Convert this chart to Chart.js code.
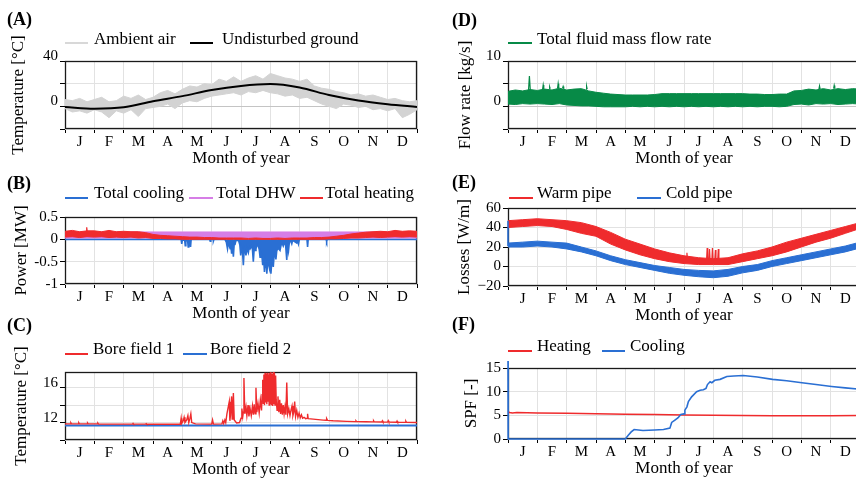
<!DOCTYPE html>
<html>
<head>
<meta charset="utf-8">
<script src="https://cdn.jsdelivr.net/npm/chart.js@4.4.1/dist/chart.umd.min.js"></script>
<style>
  html, body { margin: 0; padding: 0; background: #fff; }
  body { width: 856px; height: 481px; overflow: hidden; position: relative;
         font-family: "Liberation Serif", serif; color: #000; }
  canvas { position: absolute; }
  .txt { position: absolute; white-space: nowrap; }
  .sw { position: absolute; height: 2px; }
</style>
</head>
<body>
<canvas id="cA"></canvas>
<canvas id="cB"></canvas>
<canvas id="cC"></canvas>
<canvas id="cD"></canvas>
<canvas id="cE"></canvas>
<canvas id="cF"></canvas>
<script>
const MONTHS = ["J", "F", "M", "A", "M", "J", "J", "A", "S", "O", "N", "D"];
// x positions are in months (0 = 1 Jan, 12 = 31 Dec)
const quarterX = Array.from({ length: 49 }, (_, i) => i / 4);
const halfX = Array.from({ length: 25 }, (_, i) => i / 2);
const monthX = Array.from({ length: 13 }, (_, i) => i);

// (A) temperatures [°C]
const airHi = [6, 5, 7, 4, 6, 8, 4, 5, 9, 7, 10, 6, 8, 12, 14, 11, 15, 18, 17, 20, 19, 24, 22, 26,
  22, 25, 27, 24, 29, 27, 25, 24, 22, 24, 18, 16, 15, 13, 12, 10, 11, 9, 10, 8, 6, 7, 5, 4, 5];
const airLo = [-2, -5, -4, -6, -3, -5, -10, -4, -6, -3, -9, -2, -1, 0, 2, -2, 3, 5, 4, 7, 9, 10, 11, 12,
  10, 13, 12, 14, 12, 11, 9, 10, 7, 8, 5, 2, 0, -2, 2, 1, -1, 0, -3, -2, -4, -2, -10, -7, -3];
const groundT = [-0.5, -2.1, -0.9, 4.5, 9.0, 14.4, 18.0, 19.6, 16.6, 10.0, 5.2, 1.9, -0.6];

// (B) power [MW]
const heatHi = [0.18, 0.2, 0.17, 0.19, 0.19, 0.17, 0.2, 0.17, 0.18, 0.17, 0.17, 0.15,
  0.11, 0.09, 0.08, 0.07, 0.06, 0.05, 0.05, 0.04, 0.04, 0.03, 0.03, 0.03,
  0.03, 0.02, 0.03, 0.02, 0.02, 0.03, 0.02, 0.03, 0.03, 0.03, 0.04, 0.04,
  0.05, 0.07, 0.09, 0.12, 0.14, 0.16, 0.17, 0.18, 0.17, 0.2, 0.18, 0.19, 0.18];
const heatLo = [0.05, 0.06, 0.04, 0.06, 0.05, 0.06, 0.04, 0.05, 0.04, 0.05, 0.03, 0.04,
  0.02, 0.02, 0.01, 0.01, 0, 0, 0, 0, 0, 0, 0, 0,
  0, 0, 0, 0, 0, 0, 0, 0, 0, 0, 0, 0,
  0.01, 0.01, 0.02, 0.03, 0.03, 0.04, 0.05, 0.04, 0.05, 0.06, 0.05, 0.06, 0.05];
const heatSpikeX = [0.72, 0.74, 0.76];
const heatSpikeY = [0.16, 0.27, 0.16];
const dhwHi = [0.165, 0.165, 0.165, 0.165, 0.165, 0.165, 0.165, 0.165, 0.165, 0.165, 0.165, 0.165, 0.165];
const dhwLo = [0.03, 0.03, 0.03, 0.03, 0.03, 0.03, 0.03, 0.03, 0.03, 0.03, 0.03, 0.03, 0.03];
const coolX = [0, 3.96, 3.98, 4.0, 4.08, 4.1, 4.12, 4.18, 4.2, 4.22, 4.26, 4.28, 4.3, 4.93, 4.95, 4.97, 5.05, 5.06, 5.08,
  5.45, 5.5, 5.54, 5.57, 5.63, 5.65, 5.68, 5.71, 5.74, 5.77, 5.8, 5.83, 5.92,
  5.96, 5.99, 6.02, 6.05, 6.08, 6.11, 6.14, 6.17, 6.2, 6.25, 6.28, 6.31, 6.35, 6.39, 6.42, 6.45, 6.48, 6.51, 6.55, 6.59, 6.62,
  6.65, 6.68, 6.71, 6.74, 6.77, 6.8, 6.83, 6.86, 6.88, 6.91, 6.94, 6.97, 7.0, 7.02, 7.05, 7.08, 7.1, 7.13, 7.16, 7.19, 7.22,
  7.27, 7.33, 7.37, 7.41, 7.44, 7.48, 7.52, 7.56, 7.59, 7.62, 7.65, 7.7, 7.73, 7.76, 7.9, 7.93, 7.96, 7.99,
  8.25, 8.27, 8.29, 8.9, 8.92, 8.94, 12];
const coolY = [0, 0, -0.1, -0.02, -0.02, -0.14, -0.02, -0.03, -0.17, -0.03, -0.04, -0.17, 0, 0, -0.04, 0, 0, -0.04, 0,
  0, -0.06, -0.21, -0.06, -0.21, -0.1, -0.32, -0.12, -0.39, -0.08, -0.1, -0.02, -0.03,
  -0.12, -0.36, -0.18, -0.25, -0.58, -0.2, -0.25, -0.36, -0.2, -0.3, -0.18, -0.21, -0.15, -0.22, -0.5, -0.2, -0.25, -0.21, -0.12, -0.15, -0.22,
  -0.4, -0.3, -0.35, -0.58, -0.4, -0.73, -0.45, -0.55, -0.77, -0.5, -0.55, -0.65, -0.45, -0.77, -0.5, -0.45, -0.62, -0.35, -0.3, -0.45, -0.25,
  -0.2, -0.25, -0.12, -0.1, -0.15, -0.08, -0.12, -0.46, -0.1, -0.25, -0.05, -0.05, -0.1, -0.02, -0.08, -0.02, -0.1, 0,
  0, -0.17, 0, 0, -0.05, 0, 0];

// (C) bore field temperatures [°C]
const bore1X = [0, 0.18, 0.2, 0.22, 0.45, 0.47, 0.49, 0.75, 0.77, 0.79, 1.1, 1.12, 1.14, 2.3, 2.32, 2.34, 2.75, 2.77, 2.79,
  3.93, 3.96, 3.98, 4.03, 4.06, 4.09, 4.15, 4.19, 4.22, 4.26, 4.29, 4.32, 4.45, 5.0, 5.03, 5.06, 5.35, 5.38, 5.41, 5.45,
  5.48, 5.52, 5.6, 5.62, 5.64, 5.68, 5.7, 5.72, 5.74, 5.77, 5.85,
  5.95, 6.0, 6.03, 6.06, 6.08, 6.1, 6.13, 6.17, 6.2, 6.24, 6.27, 6.31, 6.35, 6.39, 6.42, 6.45, 6.48, 6.51, 6.54, 6.58,
  6.62, 6.66, 6.7, 6.72,
  6.74, 6.76, 6.78, 6.8, 6.82, 6.84, 6.86, 6.88, 6.9, 6.92, 6.94, 6.96, 6.98, 7.0, 7.02, 7.04, 7.06, 7.08, 7.1, 7.12,
  7.14, 7.16, 7.18, 7.2,
  7.23, 7.26, 7.29, 7.32, 7.35, 7.38, 7.41, 7.44, 7.47, 7.5, 7.53, 7.56, 7.59, 7.63, 7.67, 7.71, 7.74, 7.77, 7.8, 7.83,
  7.86, 7.9, 7.94, 7.98, 8.02, 8.06, 8.1, 8.15, 8.2, 8.25, 8.27, 8.29,
  8.46, 8.8, 8.9, 8.92, 8.95, 9.14, 9.6, 9.9, 9.92, 9.94, 10.27, 10.5, 10.52, 10.54, 10.8, 10.82, 10.84, 11.0, 11.02, 11.04,
  11.3, 11.32, 11.34, 11.6, 11.62, 11.64, 12];
const bore1Y = [11.85, 11.85, 11.97, 11.85, 11.85, 11.97, 11.85, 11.85, 11.95, 11.85, 11.85, 11.93, 11.84, 11.82, 11.9, 11.82, 11.82, 11.88, 11.81,
  11.8, 12.5, 11.9, 12.2, 12.6, 12.0, 12.3, 12.8, 12.0, 12.5, 13.0, 12.0, 11.85, 11.82, 12.3, 11.82, 11.85, 12.2, 11.9, 12.3,
  12.0, 13.0, 14.4, 12.2, 12.8, 15.0, 12.4, 13.2, 15.4, 12.3, 11.95,
  12.0, 12.5, 13.6, 12.7, 13.2, 17.1, 13.0, 13.8, 12.8, 14.0, 12.7, 13.6, 12.8, 13.9, 12.9, 14.1, 13.0, 16.0, 13.2, 14.2,
  13.1, 14.6, 13.4, 15.2,
  16.9, 14.2, 17.5, 14.0, 17.7, 14.3, 17.6, 14.1, 17.7, 14.4, 17.5, 14.0, 17.7, 14.2, 17.8, 14.0, 17.6, 13.9, 17.8, 14.1,
  17.7, 14.0, 17.4, 14.6,
  13.4, 15.0, 13.2, 14.6, 13.0, 14.2, 12.9, 14.0, 13.0, 13.8, 12.9, 16.6, 13.0, 13.6, 12.8, 13.5, 13.9, 12.8, 13.2, 14.4,
  12.7, 13.4, 12.6, 13.1, 12.55, 12.9, 12.5, 12.6, 12.45, 12.5, 13.0, 12.45,
  12.4, 12.28, 12.26, 12.45, 12.25, 12.2, 12.14, 12.11, 12.2, 12.11, 12.1, 12.08, 12.2, 12.08, 12.06, 12.2, 12.06, 12.05, 12.2, 12.05,
  12.04, 12.18, 12.04, 12.02, 12.15, 12.02, 12.0];
const bore2X = [0, 12];
const bore2Y = [11.67, 11.67];

// (D) flow rate [kg/s]
const flowHi = [3.3, 3.6, 3.4, 3.7, 3.5, 3.8, 3.6, 4.0, 3.6, 3.8, 3.9, 3.4,
  3.1, 2.9, 2.7, 2.6, 2.5, 2.5, 2.5, 2.5, 2.6, 2.8, 2.8, 2.8,
  2.8, 2.8, 2.8, 2.8, 2.8, 2.8, 2.8, 2.8, 2.8, 2.7, 2.7, 2.6,
  2.6, 2.7, 2.7, 3.4, 3.5, 3.8, 3.6, 3.9, 3.6, 3.9, 3.7, 3.9, 3.8];
const flowLo = [0.5, 0.4, 0.6, 0.5, 0.6, 0.5, 0.4, 0.6, 0.3, 0.2, 0.1, 0.1,
  0.0, -0.1, -0.1, -0.1, -0.1, 0.0, -0.1, 0.0, -0.1, 0.0, -0.1, 0.0,
  -0.1, 0.0, -0.1, 0.0, -0.1, 0.0, -0.1, 0.0, -0.1, 0.0, -0.1, 0.0,
  0.0, -0.1, 0.0, 0.4, 0.5, 0.3, 0.6, 0.5, 0.6, 0.4, 0.5, 0.6, 0.5];
const flowSpikeX = [0.7, 0.73, 0.76, 0.77, 1.18, 1.2, 1.22, 1.23, 1.4, 1.42, 1.44, 1.45, 1.69, 1.71, 1.73, 1.74,
  1.86, 1.88, 1.9, 1.91, 2.66, 2.68, 2.7, 2.71, 10.6, 10.62, 10.64, 10.65, 11.1, 11.12, 11.14];
const flowSpikeY = [3.6, 6.7, 3.6, null, 3.8, 4.7, 3.8, null, 3.9, 4.3, 3.9, null, 4.0, 5.0, 4.0, null,
  4.0, 4.4, 4.0, null, 3.8, 4.4, 3.8, null, 3.8, 4.5, 3.8, null, 3.9, 4.6, 3.9];

// (E) pipe losses [W/m]
const warmHi = [47, 48, 49, 48, 47, 45, 41, 35, 28, 23, 18, 14, 11, 9, 8, 9, 13, 16, 20, 25, 29, 33, 37, 41, 45];
const warmLo = [40, 41, 42, 41, 38, 34, 31, 23, 17, 12, 8, 5, 3, 2, 2, 2, 5, 8, 11, 15, 20, 25, 29, 34, 39];
const warmSpikeX = [6.08, 6.1, 6.12, 6.13, 6.77, 6.79, 6.81, 6.85, 6.87, 6.89, 6.95, 6.97, 6.99, 7.05, 7.07, 7.09, 7.15, 7.17, 7.19];
const warmSpikeY = [7, 14, 7, null, 7, 19, 7, 7, 18, 7, 7, 19, 7, 7, 17, 7, 7, 18, 7];
const coldHi = [24, 25, 26, 25, 24, 20, 16, 11, 7, 4, 1, -1, -3, -4, -4.5, -3, 0, 2, 6, 9, 12, 15, 18, 21, 25];
const coldLo = [20, 20, 21, 20, 18, 15, 11, 6, 2, -1, -4, -7, -9, -10.5, -11.5, -10, -6.5, -4, 0, 3, 6, 9, 12, 15, 19];
const coldStartX = [0, 0];
const coldStartY = [47, 21];

// (F) seasonal performance factor [-]
const spfHeatX = [0, 0.05, 0.15, 0.3, 1, 2, 3, 4, 5, 6, 7, 8, 9, 10, 11, 12];
const spfHeatY = [5.8, 5.6, 5.5, 5.6, 5.5, 5.45, 5.35, 5.25, 5.15, 5.05, 5.0, 4.95, 4.9, 4.9, 4.9, 4.95];
const spfCoolX = [0, 0, 0.01, 4.0, 4.1, 4.2, 4.3, 4.6, 5.0, 5.3, 5.52, 5.58, 5.69, 5.8, 5.89, 6.0, 6.03, 6.1, 6.15, 6.26,
  6.43, 6.55, 6.66, 6.75, 6.8, 6.89, 6.95, 7.05, 7.23, 7.46, 7.7, 8.02, 8.5, 9.02, 9.5, 10.02, 10.5, 11.03, 11.5, 12];
const spfCoolY = [16.5, 0, 0, 0, 0.8, 1.5, 2.0, 1.8, 1.9, 2.0, 2.3, 3.5, 4.0, 4.5, 5.2, 5.3, 6.1, 6.8, 7.9, 8.9,
  10.0, 10.3, 10.4, 10.7, 11.5, 12.1, 11.9, 12.4, 12.6, 13.2, 13.3, 13.4, 13.1, 12.6, 12.3, 11.9, 11.5, 11.1, 10.8, 10.5];

const RED = "#ef2b2d", BLUE = "#2a6fd3", VIOLET = "#d67ee6", GREEN = "#078a47", GRAY = "#d3d3d3";
const GRID = "#e2e2e2";
const PAD_TOP = 40;

Chart.defaults.font.family = "'Liberation Serif', serif";
Chart.defaults.color = "#000";

function pts(xs, ys) {
  return xs.map((x, i) => ({ x: x, y: ys[i] }));
}

function line(xs, ys, color, width, extra) {
  return Object.assign({
    data: pts(xs, ys), borderColor: color, backgroundColor: color,
    borderWidth: width, pointRadius: 0, fill: false, order: 0
  }, extra || {});
}

function band(xs, hi, lo, color, order) {
  return [line(xs, hi, color, 1, { fill: "+1", order: order }),
          line(xs, lo, color, 1, { order: order })];
}

const framePlugin = {
  id: "frame",
  beforeDatasetsDraw(chart) {
    const a = chart.chartArea, ctx = chart.ctx;
    ctx.save();
    ctx.strokeStyle = "#1a1a1a";
    ctx.lineWidth = 1.3;
    ctx.strokeRect(Math.round(a.left) + 0.5, Math.round(a.top) + 0.5,
      Math.round(a.right - a.left) - 1, Math.round(a.bottom - a.top) - 1);
    ctx.restore();
  }
};

function xScale() {
  return {
    type: "linear", min: 0, max: 12,
    afterBuildTicks: s => { s.ticks = halfX.map(v => ({ value: v })); },
    afterFit: s => { s.height = 42; },
    border: { display: false },
    grid: {
      color: c => (c.tick && c.tick.value % 1 === 0) ? GRID : "rgba(0,0,0,0)",
      tickColor: c => (c.tick && c.tick.value % 1 === 0) ? "#000" : "rgba(0,0,0,0)",
      tickLength: 4
    },
    ticks: {
      autoSkip: false, maxRotation: 0, padding: 2, color: "#000",
      font: { size: 15, lineHeight: 1 },
      callback: v => (v % 1 !== 0) ? MONTHS[Math.floor(v)] : ""
    },
    title: { display: true, text: "Month of year", font: { size: 17, lineHeight: 1.2 }, padding: { top: 0, bottom: 2 } }
  };
}

function yScale(cfg) {
  return {
    type: "linear", min: cfg.min, max: cfg.max,
    afterBuildTicks: s => { s.ticks = cfg.ticks.map(v => ({ value: v })); },
    afterFit: s => { s.width = cfg.width; },
    border: { display: false },
    grid: {
      color: c => (cfg.zeroLine && c.tick && c.tick.value === 0) ? "#c4c4c4" : GRID,
      tickColor: "#000", tickLength: 5
    },
    ticks: {
      padding: 2, color: "#000", labelOffset: cfg.raise || 0,
      font: { size: 15, lineHeight: 1 },
      callback: v => (String(v) in cfg.labels) ? cfg.labels[String(v)] : ""
    },
    title: { display: true, text: cfg.title, font: { size: 17, lineHeight: 1.2 }, padding: { top: cfg.titlePad, bottom: 0 } }
  };
}

// box: left x, plot top, plot height, canvas width, right padding
function makeChart(id, box, y, datasets) {
  const cv = document.getElementById(id);
  const h = box.ph + PAD_TOP + 42;
  cv.width = box.w; cv.height = h;
  cv.style.left = box.x + "px"; cv.style.top = (box.top - PAD_TOP) + "px";
  cv.style.width = box.w + "px"; cv.style.height = h + "px";
  return new Chart(cv, {
    type: "line",
    data: { datasets: datasets },
    options: {
      responsive: false, animation: false, devicePixelRatio: 1,
      layout: { padding: { top: PAD_TOP, right: box.pr, left: 0, bottom: 0 } },
      plugins: { legend: { display: false }, tooltip: { enabled: false } },
      elements: { point: { radius: 0 }, line: { tension: 0 } },
      scales: { x: xScale(), y: yScale(y) }
    },
    plugins: [framePlugin]
  });
}

// (A)
makeChart("cA", { x: 0, top: 61, ph: 68, w: 430, pr: 13 },
  { min: -20, max: 40, ticks: [-20, 0, 20, 40], labels: { "40": "40", "0": "0" }, width: 65, raise: -5,
    title: "Temperature [°C]", titlePad: 8, zeroLine: true },
  [line(monthX, groundT, "#000", 2, { cubicInterpolationMode: "monotone", order: 0 })]
    .concat(band(quarterX, airHi, airLo, GRAY, 1)));

// (D)
makeChart("cD", { x: 430, top: 61, ph: 68, w: 432, pr: 2 },
  { min: -5, max: 10, ticks: [-5, 0, 5, 10], labels: { "10": "10", "0": "0" }, width: 78, raise: -5,
    title: "Flow rate [kg/s]", titlePad: 25, zeroLine: true },
  band(quarterX, flowHi, flowLo, GREEN, 1)
    .concat([line(flowSpikeX, flowSpikeY, GREEN, 1.2, { order: 0 })]));

// (B)
makeChart("cB", { x: 0, top: 217, ph: 67, w: 430, pr: 13 },
  { min: -1, max: 0.5, ticks: [-1, -0.5, 0, 0.5], labels: { "0.5": "0.5", "0": "0", "-0.5": "-0.5", "-1": "-1" },
    width: 65, raise: 0, title: "Power [MW]", titlePad: 11 },
  band(quarterX, heatHi, heatLo, RED, 0)
    .concat([line(heatSpikeX, heatSpikeY, RED, 1.2, { order: 0 })])
    .concat(band(monthX, dhwHi, dhwLo, VIOLET, 1))
    .concat([line(coolX, coolY, BLUE, 1.6, { fill: "origin", order: 2 })]));

// (E)
makeChart("cE", { x: 430, top: 208, ph: 78, w: 432, pr: 2 },
  { min: -20, max: 60, ticks: [-20, 0, 20, 40, 60],
    labels: { "60": "60", "40": "40", "20": "20", "0": "0", "-20": "\u221220" },
    width: 78, raise: 0, title: "Losses [W/m]", titlePad: 24 },
  [line(coldStartX, coldStartY, BLUE, 1.6, { order: 0, clip: false })]
    .concat(band(halfX, warmHi, warmLo, RED, 1))
    .concat([line(warmSpikeX, warmSpikeY, RED, 1.2, { order: 1 })])
    .concat(band(halfX, coldHi, coldLo, BLUE, 2)));

// (C)
makeChart("cC", { x: 0, top: 372, ph: 68, w: 430, pr: 13 },
  { min: 10, max: 17.8, ticks: [10, 12, 14, 16], labels: { "12": "12", "16": "16" }, width: 65, raise: -5,
    title: "Temperature [°C]", titlePad: 11 },
  [line(bore1X, bore1Y, RED, 1.4, { order: 0 }),
   line(bore2X, bore2Y, BLUE, 2, { order: 1 })]);

// (F)
makeChart("cF", { x: 430, top: 368, ph: 71, w: 432, pr: 2 },
  { min: 0, max: 15, ticks: [0, 5, 10, 15], labels: { "15": "15", "10": "10", "5": "5", "0": "0" },
    width: 78, raise: 0, title: "SPF [-]", titlePad: 31 },
  [line(spfCoolX, spfCoolY, BLUE, 1.6, { order: 0, clip: false }),
   line(spfHeatX, spfHeatY, RED, 1.5, { order: 1 })]);

// panel letters and legends (HTML text, placed by baseline)
function addText(str, x, baseline, size, bold) {
  const d = document.createElement("div");
  d.className = "txt";
  d.textContent = str;
  d.style.fontSize = size + "px";
  d.style.lineHeight = size + "px";
  if (bold) d.style.fontWeight = "bold";
  d.style.left = x + "px";
  d.style.top = (baseline - 0.8375 * size) + "px";
  document.body.appendChild(d);
}

function addSwatch(x1, x2, y, color) {
  const d = document.createElement("div");
  d.className = "sw";
  d.style.left = x1 + "px";
  d.style.width = (x2 - x1) + "px";
  d.style.top = (y - 1) + "px";
  d.style.background = color;
  document.body.appendChild(d);
}

const panelLetters = [
  ["(A)", 7, 25], ["(B)", 7, 189], ["(C)", 7, 331],
  ["(D)", 452, 26], ["(E)", 452, 188], ["(F)", 452, 330]
];
panelLetters.forEach(p => addText(p[0], p[1], p[2], 18, true));

// [label, colour, swatch start, swatch end, text x, line y, baseline]
const legendItems = [
  ["Ambient air", "#d8d8d8", 65, 88, 94, 43, 44],
  ["Undisturbed ground", "#000", 190, 213, 222, 43, 44],
  ["Total fluid mass flow rate", GREEN, 508, 532, 537, 43, 44],
  ["Total cooling", BLUE, 65, 88, 94, 197.5, 198],
  ["Total DHW", VIOLET, 189, 213, 216, 197.5, 198],
  ["Total heating", RED, 300, 323, 325, 197.5, 198],
  ["Warm pipe", RED, 509, 533, 537, 198, 198],
  ["Cold pipe", BLUE, 637, 661, 666, 198, 198],
  ["Bore field 1", RED, 65, 88, 93, 353.5, 354],
  ["Bore field 2", BLUE, 183, 207, 210, 353.5, 354],
  ["Heating", RED, 508, 532, 537, 350.5, 351],
  ["Cooling", BLUE, 602, 625, 630, 350.5, 351]
];
legendItems.forEach(it => {
  addSwatch(it[2], it[3], it[5], it[1]);
  addText(it[0], it[4], it[6], 17, false);
});
</script>
</body>
</html>
